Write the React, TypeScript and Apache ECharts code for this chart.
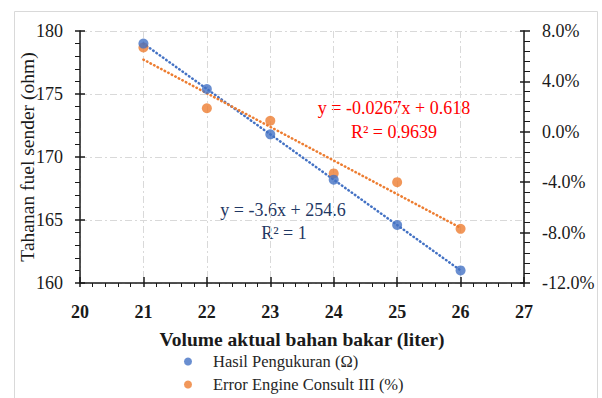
import React, { useEffect, useRef } from "react";
import * as echarts from "echarts";

const volumes = [21, 22, 23, 24, 25, 26];
const resistance = [179.0, 175.4, 171.8, 168.2, 164.6, 161.0];
const errorPct = [6.7, 1.87, 0.88, -3.3, -4.0, -7.7];

const blueSlope = -3.6;
const blueIntercept = 254.6;
const orangeSlope = -0.0267;
const orangeIntercept = 0.618;
const trendX = [21, 26];

const blueName = "Hasil Pengukuran (Ω)";
const orangeName = "Error Engine Consult III (%)";

const SERIF = "'Liberation Serif', 'DejaVu Serif', serif";
const BLUE = "#4472C4";
const ORANGE = "#ED7D31";
const AXIS = "#1a1a1a";
const GRID = "#d9d9d9";

export default function App() {
  const ref = useRef<HTMLDivElement>(null);
  useEffect(() => {
    if (!ref.current) return;
    const chart = echarts.init(ref.current, null, { renderer: "svg" });
    const gridLine = { show: true, lineStyle: { color: GRID, width: 1, type: [7, 3, 2, 3] } };
    const baseX = {
      type: "value",
      min: 20,
      max: 27,
      interval: 1,
      position: "bottom",
    };
    const leftY = { type: "value", min: 160, max: 180, interval: 5, position: "left" };
    const rightY = { type: "value", min: -12, max: 8, interval: 4, position: "right" };
    const option: any = {
      animation: false,
      backgroundColor: "#ffffff",
      grid: { left: 80, right: 78, top: 31, bottom: 115, containLabel: false },
      legend: {
        orient: "vertical",
        left: 184,
        top: 353,
        padding: 0,
        itemWidth: 8,
        itemHeight: 8,
        itemGap: 6,
        icon: "circle",
        data: [blueName, orangeName],
        textStyle: { fontFamily: SERIF, fontSize: 16.5, lineHeight: 17, color: "#262626", padding: [0, 0, 0, 16] },
      },
      xAxis: [
        {
          ...baseX,
          name: "Volume aktual bahan bakar (liter)",
          nameLocation: "middle",
          nameGap: 46,
          nameTextStyle: { fontFamily: SERIF, fontSize: 19.5, fontWeight: "bold", color: "#1a1a1a" },
          axisLine: { show: true, onZero: false, lineStyle: { color: AXIS, width: 1.5 } },
          axisTick: { show: true, inside: false, length: 4, lineStyle: { color: AXIS, width: 1.5 } },
          minorTick: { show: true, splitNumber: 5, length: 4, lineStyle: { color: AXIS, width: 1 } },
          splitLine: gridLine,
          axisLabel: { fontFamily: SERIF, fontSize: 18, fontWeight: "bold", color: "#1a1a1a", margin: 20 },
        },
        {
          ...baseX,
          axisLine: { show: false, onZero: false },
          axisTick: { show: true, inside: true, length: 6, lineStyle: { color: AXIS, width: 1.5 } },
          splitLine: { show: false },
          axisLabel: { show: false },
        },
      ],
      yAxis: [
        {
          ...leftY,
          name: "Tahanan fuel sender (ohm)",
          nameLocation: "middle",
          nameGap: 43,
          nameMoveOverlap: false,
          nameTextStyle: { fontFamily: SERIF, fontSize: 19.5, color: "#1a1a1a" },
          axisLine: { show: true, onZero: false, lineStyle: { color: AXIS, width: 1.5 } },
          axisTick: { show: true, inside: false, length: 5, lineStyle: { color: AXIS, width: 1.5 } },
          minorTick: { show: true, splitNumber: 5, length: 5, lineStyle: { color: AXIS, width: 1 } },
          splitLine: gridLine,
          axisLabel: { fontFamily: SERIF, fontSize: 18, color: "#1a1a1a", margin: 17 },
        },
        {
          ...rightY,
          axisLine: { show: true, onZero: false, lineStyle: { color: AXIS, width: 1.5 } },
          axisTick: { show: true, inside: false, length: 6, lineStyle: { color: AXIS, width: 1.5 } },
          minorTick: { show: true, splitNumber: 5, length: 6, lineStyle: { color: AXIS, width: 1 } },
          splitLine: { show: false },
          axisLabel: {
            fontFamily: SERIF,
            fontSize: 18,
            color: "#1a1a1a",
            margin: 18,
            formatter: (v: number) => v.toFixed(1) + "%",
          },
        },
        {
          ...leftY,
          axisLine: { show: false, onZero: false },
          axisTick: { show: true, inside: true, length: 5, lineStyle: { color: AXIS, width: 1.5 } },
          splitLine: { show: false },
          axisLabel: { show: false },
        },
        {
          ...rightY,
          axisLine: { show: false, onZero: false },
          axisTick: { show: true, inside: true, length: 4, lineStyle: { color: AXIS, width: 1.5 } },
          splitLine: { show: false },
          axisLabel: { show: false },
        },
      ],
      series: [
        {
          name: blueName + " trend",
          type: "line",
          xAxisIndex: 0,
          yAxisIndex: 0,
          data: trendX.map((x) => [x, blueSlope * x + blueIntercept]),
          symbol: "none",
          lineStyle: { color: BLUE, width: 2.5, type: [0.5, 3.5], cap: "round" },
          z: 2,
          silent: true,
        },
        {
          name: orangeName + " trend",
          type: "line",
          xAxisIndex: 0,
          yAxisIndex: 1,
          data: trendX.map((x) => [x, (orangeSlope * x + orangeIntercept) * 100]),
          symbol: "none",
          lineStyle: { color: ORANGE, width: 2.5, type: [0.5, 3.5], cap: "round" },
          z: 2,
          silent: true,
        },
        {
          name: blueName,
          type: "scatter",
          xAxisIndex: 0,
          yAxisIndex: 0,
          symbolSize: 10,
          itemStyle: { color: BLUE },
          data: volumes.map((v, i) => [v, resistance[i]]),
          z: 4,
        },
        {
          name: orangeName,
          type: "scatter",
          xAxisIndex: 0,
          yAxisIndex: 1,
          symbolSize: 10,
          itemStyle: { color: ORANGE },
          data: volumes.map((v, i) => [v, errorPct[i]]),
          z: 3,
        },
      ],
      graphic: [
        {
          type: "rect",
          shape: { x: 14.5, y: 11.5, width: 583, height: 400 },
          style: { fill: "none", stroke: GRID, lineWidth: 1 },
          silent: true,
          z: 0,
        },
        {
          type: "text",
          x: 394,
          y: 108,
          style: {
            text: "y = -0.0267x + 0.618",
            fontFamily: SERIF,
            fontSize: 18,
            fill: "#ff0000",
            align: "center",
            verticalAlign: "middle",
          },
        },
        {
          type: "text",
          x: 394,
          y: 132,
          style: {
            text: "R² = 0.9639",
            fontFamily: SERIF,
            fontSize: 18,
            fill: "#ff0000",
            align: "center",
            verticalAlign: "middle",
          },
        },
        {
          type: "text",
          x: 283,
          y: 210,
          style: {
            text: "y = -3.6x + 254.6",
            fontFamily: SERIF,
            fontSize: 18,
            fill: "#1f3864",
            align: "center",
            verticalAlign: "middle",
          },
        },
        {
          type: "text",
          x: 284,
          y: 233,
          style: {
            text: "R² = 1",
            fontFamily: SERIF,
            fontSize: 18,
            fill: "#1f3864",
            align: "center",
            verticalAlign: "middle",
          },
        },
      ],
    };
    chart.setOption(option);
    return () => chart.dispose();
  }, []);
  return (
    <div
      ref={ref}
      style={{ position: "fixed", left: 0, top: 0, width: 602, height: 398, background: "#fff" }}
    />
  );
}
